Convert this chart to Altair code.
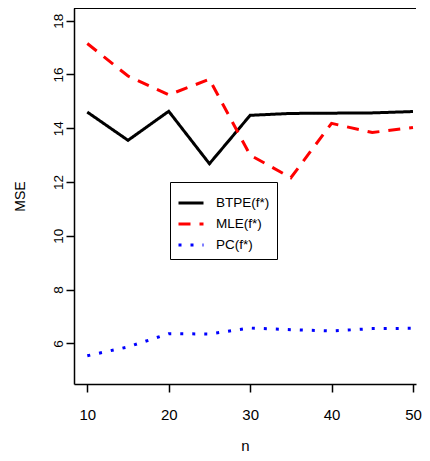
import altair as alt
import pandas as pd

n = [10, 15, 20, 25, 30, 35, 40, 45, 50]
btpe = [14.60, 13.55, 14.63, 12.68, 14.48, 14.55, 14.56, 14.57, 14.62]
mle = [17.15, 15.94, 15.24, 15.82, 13.00, 12.16, 14.18, 13.84, 14.03]
pc = [5.54, 5.87, 6.36, 6.35, 6.57, 6.51, 6.46, 6.55, 6.56]
series = ["BTPE(f*)", "MLE(f*)", "PC(f*)"]
colors = ["#000000", "#FF0000", "#0000FF"]
dashes = [[1, 0], [12, 9], [3, 9]]

rows = []
for name, vals in zip(series, [btpe, mle, pc]):
    for x, y in zip(n, vals):
        rows.append({"n": x, "MSE": y, "series": name})
df = pd.DataFrame(rows)

W, H = 342, 376
FONT = "Liberation Sans"
NARROW = "Liberation Sans Narrow, Liberation Sans"

lines = alt.Chart(df).mark_line(strokeWidth=3, strokeCap="butt").encode(
    x=alt.X("n:Q", scale=alt.Scale(domain=[8.366, 50.37], nice=False, zero=False),
            axis=alt.Axis(values=[10, 20, 30, 40, 50], title="n", grid=False,
                          tickSize=8, labelPadding=15, titlePadding=16,
                          labelFont=NARROW, labelFontSize=15,
                          titleFont=NARROW, titleFontSize=15,
                          domainColor="black", tickColor="black")),
    y=alt.Y("MSE:Q", scale=alt.Scale(domain=[4.49, 18.47], nice=False, zero=False),
            axis=alt.Axis(values=[6, 8, 10, 12, 14, 16, 18], title="MSE", grid=False,
                          tickSize=8, labelAngle=270, labelPadding=1, titlePadding=24,
                          labelFont=FONT, labelFontSize=13.5,
                          titleFont=FONT, titleFontSize=14,
                          domainColor="black", tickColor="black")),
    color=alt.Color("series:N", scale=alt.Scale(domain=series, range=colors),
                    legend=alt.Legend(title=None)),
    strokeDash=alt.StrokeDash("series:N", scale=alt.Scale(domain=series, range=dashes),
                              legend=alt.Legend(title=None)),
)

top = alt.Chart(df).mark_rule(color="black", strokeWidth=1.5).encode(
    x=alt.value(0), x2=alt.value(W), y=alt.value(0)
)

chart = alt.layer(lines, top).properties(
    width=W, height=H,
    autosize=alt.AutoSizeParams(type="none"),
    padding={"left": 66, "top": 0, "right": 6, "bottom": 69},
).configure_view(stroke=None).configure_axis(
    titleFontWeight="normal", labelColor="black", titleColor="black",
    domainWidth=1.5, tickWidth=1.5,
).configure_legend(
    orient="none", legendX=96, legendY=174, strokeColor="black",
    fillColor="white", padding=7, symbolType="stroke", symbolStrokeWidth=3,
    symbolSize=625, rowPadding=-6, labelOffset=11, labelFont=FONT,
    labelFontSize=13.5, labelColor="black", cornerRadius=0,
)

chart.save("out.html", embed_options={"renderer": "svg", "actions": False})
